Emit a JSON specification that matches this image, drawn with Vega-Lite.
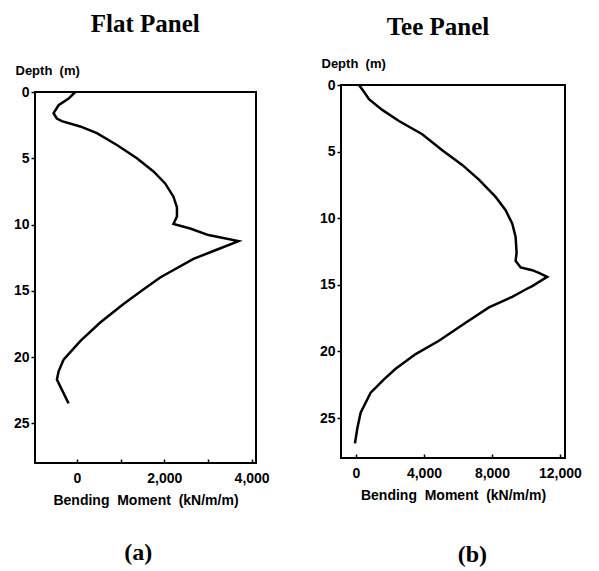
{
  "$schema": "https://vega.github.io/schema/vega-lite/v6.json",
  "padding": {"left": 12, "top": 12, "right": 5, "bottom": 0},
  "background": "white",
  "config": {
    "view": {"stroke": "black", "strokeWidth": 2},
    "axis": {"grid": false, "domain": false, "labelFont": "Liberation Sans", "labelFontWeight": "bold", "labelFontSize": 14, "labelColor": "black", "titleFont": "Liberation Sans", "titleFontWeight": "bold", "titleFontSize": 14, "titleColor": "black", "tickColor": "black", "tickWidth": 1.5},
    "title": {"font": "Liberation Serif", "fontSize": 25, "fontWeight": "bold", "color": "black", "anchor": "middle"},
    "concat": {"spacing": 47}
  },
  "datasets": {
    "flat": [
      {"depth": 0, "moment": -40}, {"depth": 0.5, "moment": -190}, {"depth": 1.0, "moment": -420}, {"depth": 1.6, "moment": -535},
      {"depth": 2.0, "moment": -460}, {"depth": 2.2, "moment": -345}, {"depth": 2.6, "moment": 75}, {"depth": 3.1, "moment": 457},
      {"depth": 4.0, "moment": 915}, {"depth": 5.0, "moment": 1373}, {"depth": 6.0, "moment": 1753}, {"depth": 6.9, "moment": 2020},
      {"depth": 7.9, "moment": 2210}, {"depth": 8.7, "moment": 2290}, {"depth": 9.4, "moment": 2290}, {"depth": 9.95, "moment": 2210},
      {"depth": 10.3, "moment": 2593}, {"depth": 10.8, "moment": 3011}, {"depth": 11.25, "moment": 3698}, {"depth": 12.0, "moment": 3126},
      {"depth": 12.6, "moment": 2668}, {"depth": 14.0, "moment": 1906}, {"depth": 15.0, "moment": 1480}, {"depth": 16.0, "moment": 1067},
      {"depth": 17.4, "moment": 533}, {"depth": 18.8, "moment": 76}, {"depth": 20.2, "moment": -307}, {"depth": 21.1, "moment": -421},
      {"depth": 21.7, "moment": -458}, {"depth": 23.5, "moment": -192}
    ],
    "tee": [
      {"depth": 0, "moment": 176}, {"depth": 0.5, "moment": 470}, {"depth": 1.07, "moment": 765}, {"depth": 1.87, "moment": 1547},
      {"depth": 2.7, "moment": 2530}, {"depth": 3.7, "moment": 3900}, {"depth": 4.9, "moment": 5076}, {"depth": 6.0, "moment": 6253},
      {"depth": 7.1, "moment": 7235}, {"depth": 8.4, "moment": 8218}, {"depth": 9.4, "moment": 8806}, {"depth": 10.4, "moment": 9194},
      {"depth": 11.4, "moment": 9394}, {"depth": 12.6, "moment": 9453}, {"depth": 13.2, "moment": 9394}, {"depth": 13.7, "moment": 9688},
      {"depth": 13.9, "moment": 10371}, {"depth": 14.1, "moment": 10765}, {"depth": 14.4, "moment": 11253}, {"depth": 15.1, "moment": 10371},
      {"depth": 15.35, "moment": 9982}, {"depth": 15.9, "moment": 9194}, {"depth": 16.35, "moment": 8412}, {"depth": 16.7, "moment": 7824},
      {"depth": 17.85, "moment": 6453}, {"depth": 19.2, "moment": 4882}, {"depth": 20.2, "moment": 3512}, {"depth": 21.3, "moment": 2335},
      {"depth": 22.1, "moment": 1647}, {"depth": 23.1, "moment": 865}, {"depth": 24.6, "moment": 276}, {"depth": 25.8, "moment": 76},
      {"depth": 26.9, "moment": -59}
    ],
    "blank": [{"k": 1}]
  },
  "hconcat": [
    {
      "title": {"text": "(a)", "orient": "bottom", "offset": 33, "dx": -3, "fontSize": 24},
      "vconcat": [
        {
          "title": {"text": "Flat Panel", "offset": 26, "dx": 4},
          "bounds": "flush",
          "spacing": 6,
          "vconcat": [
            {
              "width": 221,
              "height": 1,
              "view": {"stroke": null},
              "data": {"name": "blank"},
              "mark": {"type": "point", "opacity": 0},
              "encoding": {}
            },
            {
              "width": 221,
              "height": 371,
              "data": {"name": "flat"},
              "mark": {"type": "line", "color": "black", "strokeWidth": 2.5},
              "encoding": {
                "x": {"field": "moment", "type": "quantitative", "scale": {"domain": [-960, 4100], "nice": false, "zero": false},
                  "axis": {"values": [0, 1000, 2000, 3000, 4000], "labelExpr": "datum.value % 2000 === 0 ? format(datum.value, ',d') : ''", "tickSize": -4, "labelPadding": 12, "titlePadding": 8, "title": "Bending\u00a0 Moment\u00a0 (kN/m/m)"}},
                "y": {"field": "depth", "type": "quantitative", "scale": {"domain": [0, 28], "reverse": true, "nice": false},
                  "axis": {"values": [0, 5, 10, 15, 20, 25], "tickSize": 4, "title": "Depth\u00a0\u00a0(m)", "titleFontSize": 13, "titleAngle": 0, "titleAlign": "left", "titleX": -20, "titleY": -18, "titleBaseline": "alphabetic"}},
                "order": {"field": "depth", "type": "quantitative"}
              }
            }
          ]
        }
      ]
    },
    {
      "title": {"text": "(b)", "orient": "bottom", "offset": 40, "dx": 22, "fontSize": 24},
      "vconcat": [
        {
          "title": {"text": "Tee Panel", "offset": 17, "dx": -15},
          "width": 224,
          "height": 373,
          "data": {"name": "tee"},
          "mark": {"type": "line", "color": "black", "strokeWidth": 2.5},
          "encoding": {
            "x": {"field": "moment", "type": "quantitative", "scale": {"domain": [-880, 12300], "nice": false, "zero": false},
              "axis": {"values": [0, 4000, 8000, 12000], "format": ",d", "tickSize": -4, "labelPadding": 12, "titlePadding": 8, "title": "Bending\u00a0 Moment\u00a0 (kN/m/m)"}},
            "y": {"field": "depth", "type": "quantitative", "scale": {"domain": [0, 28], "reverse": true, "nice": false},
              "axis": {"values": [0, 5, 10, 15, 20, 25], "tickSize": 4, "title": "Depth\u00a0\u00a0(m)", "titleFontSize": 13, "titleAngle": 0, "titleAlign": "left", "titleX": -20, "titleY": -18, "titleBaseline": "alphabetic"}},
            "order": {"field": "depth", "type": "quantitative"}
          }
        }
      ]
    }
  ]
}
